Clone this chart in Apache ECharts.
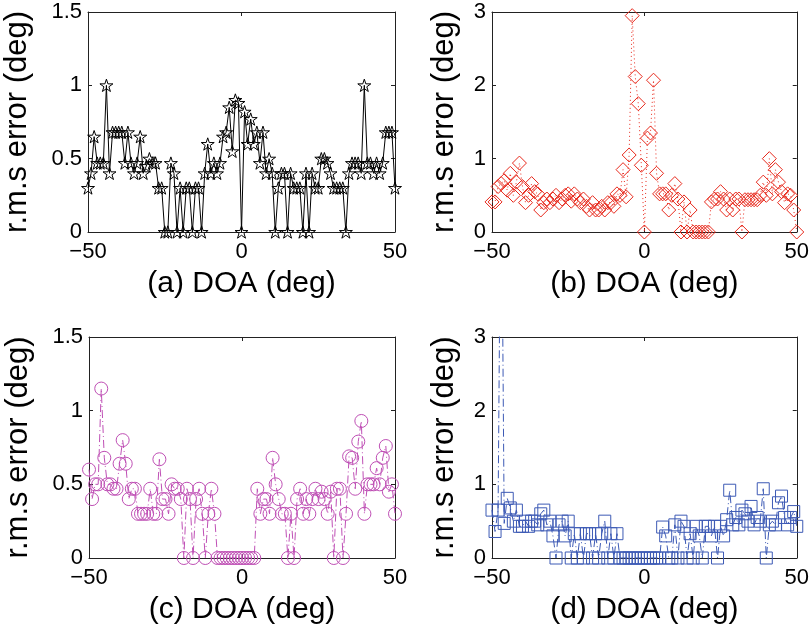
<!DOCTYPE html>
<html>
<head>
<meta charset="utf-8">
<script src="https://cdn.jsdelivr.net/npm/echarts@6/dist/echarts.min.js"></script>
<style>
  html, body { margin: 0; background: #fff; }
  #chart { width: 812px; height: 630px; }
</style>
</head>
<body>
<div id="chart"></div>
<script>
// DOA grid (deg)
const doa = [
  -50, -49, -48, -47, -46, -45, -44, -43, -42, -41,
  -40, -39, -38, -37, -36, -35, -34, -33, -32, -31,
  -30, -29, -28, -27, -26, -25, -24, -23, -22, -21,
  -20, -19, -18, -17, -16, -15, -14, -13, -12, -11,
  -10, -9, -8, -7, -6, -5, -4, -3, -2, -1,
  0, 1, 2, 3, 4, 5, 6, 7, 8, 9,
  10, 11, 12, 13, 14, 15, 16, 17, 18, 19,
  20, 21, 22, 23, 24, 25, 26, 27, 28, 29,
  30, 31, 32, 33, 34, 35, 36, 37, 38, 39,
  40, 41, 42, 43, 44, 45, 46, 47, 48, 49, 50
];

// r.m.s error (deg), one array per panel
const rmsA = [
  0.30, 0.40, 0.65, 0.47, 0.47, 0.47, 1.00, 0.40, 0.68, 0.68,
  0.68, 0.68, 0.47, 0.68, 0.47, 0.40, 0.47, 0.65, 0.40, 0.45,
  0.50, 0.47, 0.47, 0.30, 0.30, 0.00, 0.00, 0.47, 0.40, 0.00,
  0.30, 0.00, 0.30, 0.30, 0.00, 0.30, 0.30, 0.00, 0.40, 0.60,
  0.40, 0.47, 0.40, 0.47, 0.65, 0.68, 0.85, 0.55, 0.90, 0.88,
  0.00, 0.82, 0.60, 0.77, 0.60, 0.68, 0.47, 0.68, 0.40, 0.50,
  0.40, 0.00, 0.30, 0.40, 0.40, 0.00, 0.40, 0.30, 0.30, 0.30,
  0.00, 0.40, 0.00, 0.40, 0.30, 0.30, 0.50, 0.50, 0.47, 0.40,
  0.30, 0.30, 0.30, 0.30, 0.00, 0.40, 0.47, 0.47, 0.47, 0.40,
  1.00, 0.47, 0.47, 0.40, 0.47, 0.40, 0.47, 0.68, 0.68, 0.68, 0.30
];
const rmsB = [
  0.41, 0.41, 0.62, 0.66, 0.70, 0.57, 0.80, 0.50, 0.68, 0.94,
  0.62, 0.40, 0.50, 0.66, 0.55, 0.52, 0.30, 0.40, 0.45, 0.40,
  0.45, 0.50, 0.40, 0.45, 0.50, 0.52, 0.42, 0.52, 0.45, 0.40,
  0.45, 0.35, 0.30, 0.40, 0.30, 0.30, 0.35, 0.30, 0.40, 0.40,
  0.35, 0.52, 0.50, 0.85, 0.48, 1.05, 2.95, 2.12, 1.75, 0.91,
  0.00, 1.28, 1.35, 2.07, 0.80, 0.52, 0.52, 0.52, 0.30, 0.50,
  0.66, 0.45, 0.00, 0.41, 0.00, 0.30, 0.00, 0.00, 0.00, 0.00,
  0.00, 0.00, 0.41, 0.45, 0.45, 0.55, 0.45, 0.30, 0.45, 0.30,
  0.45, 0.45, 0.00, 0.44, 0.44, 0.44, 0.44, 0.44, 0.50, 0.68,
  0.50, 1.00, 0.52, 0.85, 0.68, 0.55, 0.40, 0.52, 0.50, 0.30, 0.00
];
const rmsC = [
  0.60, 0.40, 0.50, 0.50, 1.15, 0.68, 0.50, 0.50, 0.47, 0.47,
  0.64, 0.80, 0.64, 0.40, 0.47, 0.47, 0.30, 0.30, 0.30, 0.30,
  0.47, 0.30, 0.30, 0.67, 0.40, 0.40, 0.30, 0.50, 0.47, 0.47,
  0.40, 0.00, 0.47, 0.40, 0.00, 0.40, 0.47, 0.30, 0.00, 0.30,
  0.47, 0.30, 0.00, 0.00, 0.00, 0.00, 0.00, 0.00, 0.00, 0.00,
  0.00, 0.00, 0.00, 0.00, 0.00, 0.47, 0.30, 0.40, 0.40, 0.30,
  0.68, 0.50, 0.40, 0.30, 0.30, 0.00, 0.30, 0.00, 0.40, 0.47,
  0.30, 0.40, 0.30, 0.40, 0.47, 0.40, 0.45, 0.40, 0.30, 0.45,
  0.00, 0.47, 0.47, 0.00, 0.30, 0.69, 0.68, 0.47, 0.79, 0.93,
  0.30, 0.50, 0.50, 0.50, 0.61, 0.50, 0.68, 0.76, 0.45, 0.50, 0.30
];
const rmsD = [
  0.65, 0.36, 0.65, 6.00, 0.47, 0.81, 0.68, 0.50, 0.65, 0.43,
  0.43, 0.50, 0.43, 0.50, 0.50, 0.45, 0.60, 0.65, 0.45, 0.50,
  0.30, 0.00, 0.45, 0.50, 0.30, 0.50, 0.00, 0.33, 0.00, 0.33,
  0.00, 0.33, 0.33, 0.00, 0.33, 0.00, 0.33, 0.50, 0.00, 0.33,
  0.00, 0.33, 0.00, 0.00, 0.00, 0.00, 0.00, 0.00, 0.00, 0.00,
  0.00, 0.00, 0.00, 0.00, 0.00, 0.00, 0.42, 0.30, 0.00, 0.00,
  0.45, 0.00, 0.50, 0.43, 0.00, 0.33, 0.00, 0.43, 0.30, 0.00,
  0.43, 0.43, 0.30, 0.43, 0.00, 0.43, 0.30, 0.52, 0.92, 0.45,
  0.55, 0.45, 0.65, 0.60, 0.50, 0.70, 0.45, 0.55, 0.50, 0.94,
  0.00, 0.45, 0.50, 0.45, 0.75, 0.84, 0.55, 0.45, 0.55, 0.63, 0.43
];

const xTitles = ['(a) DOA (deg)', '(b) DOA (deg)', '(c) DOA (deg)', '(d) DOA (deg)'];
const yTitle = 'r.m.s error (deg)';
const yMax = [1.5, 3, 1.5, 3];
const yStep = [0.5, 1, 0.5, 1];

const starPath = 'path://M50 0L61.23 34.55L97.55 34.55L68.16 55.9L79.39 90.45L50 69.1L20.61 90.45L31.84 55.9L2.45 34.55L38.77 34.55Z';

const font = 'Liberation Sans, Arial, sans-serif';
const boxColor = '#222';

const panels = [
  { data: rmsA, grid: { left: 88, top: 12, width: 307, height: 220 }, yGap: 55, color: '#000000', symbol: starPath, size: 13, dash: 'solid' },
  { data: rmsB, grid: { left: 492, top: 12, width: 307, height: 220 }, yGap: 32, color: '#e8291c', symbol: 'diamond', size: 14, dash: [1, 3] },
  { data: rmsC, grid: { left: 89, top: 337, width: 306, height: 221 }, yGap: 55, color: '#bf4fb5', symbol: 'circle', size: 13, dash: [8, 3, 1, 3] },
  { data: rmsD, grid: { left: 492, top: 337, width: 307, height: 221 }, yGap: 32, color: '#3d5ab5', symbol: 'rect', size: 12, dash: [8, 3, 1, 3] }
];

let grids = [], xAxes = [], yAxes = [], series = [];
panels.forEach(function (p, i) {
  grids.push(Object.assign({ containLabel: false }, p.grid));
  let tick = { show: true, inside: true, length: 4, lineStyle: { color: boxColor } };
  let line = { show: true, onZero: false, lineStyle: { color: boxColor, width: 1 } };
  // bottom axis with labels + top axis to close the box
  xAxes.push({
    type: 'value', gridIndex: i, min: -50, max: 50, interval: 50, position: 'bottom',
    axisLine: line, axisTick: tick, splitLine: { show: false },
    axisLabel: { color: '#000', fontSize: 22, fontFamily: font, margin: 9, formatter: function (v) { return v < 0 ? '\u2212' + (-v) : v; } },
    name: xTitles[i], nameLocation: 'middle', nameGap: 37,
    nameTextStyle: { color: '#000', fontSize: 30, fontFamily: font }
  });
  xAxes.push({
    type: 'value', gridIndex: i, min: -50, max: 50, interval: 50, position: 'top',
    axisLine: line, axisTick: tick, axisLabel: { show: false }, splitLine: { show: false }
  });
  yAxes.push({
    type: 'value', gridIndex: i, min: 0, max: yMax[i], interval: yStep[i], position: 'left',
    axisLine: line, axisTick: tick, splitLine: { show: false },
    axisLabel: { color: '#000', fontSize: 22, fontFamily: font, margin: 6 },
    name: yTitle, nameLocation: 'middle', nameGap: p.yGap,
    nameTextStyle: { color: '#000', fontSize: 31, fontFamily: font }
  });
  yAxes.push({
    type: 'value', gridIndex: i, min: 0, max: yMax[i], interval: yStep[i], position: 'right',
    axisLine: line, axisTick: tick, axisLabel: { show: false }, splitLine: { show: false }
  });
  series.push({
    type: 'line',
    xAxisIndex: 2 * i,
    yAxisIndex: 2 * i,
    data: doa.map(function (d, k) { return [d, p.data[k]]; }),
    symbol: p.symbol,
    symbolSize: p.size,
    symbolKeepAspect: true,
    showAllSymbol: true,
    clip: true,
    lineStyle: { color: p.color, width: 1, type: p.dash },
    itemStyle: { color: 'rgba(0,0,0,0)', borderColor: p.color, borderWidth: 1 }
  });
});

let myChart = echarts.init(document.getElementById('chart'));
let option = {
  backgroundColor: '#fff',
  animation: false,
  grid: grids,
  xAxis: xAxes,
  yAxis: yAxes,
  series: series
};
myChart.setOption(option);
</script>
</body>
</html>
